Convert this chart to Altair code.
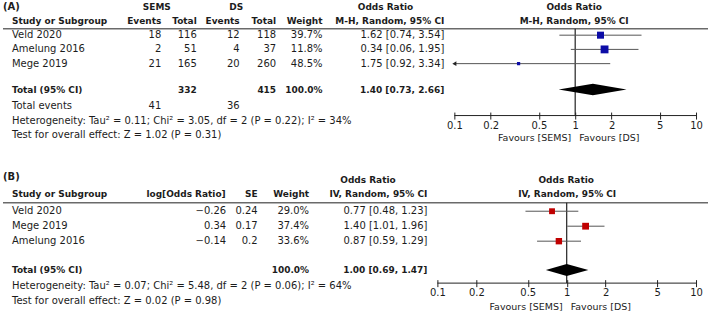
import altair as alt
import pandas as pd

# ---------------- Panel A data ----------------
studies_a = ["Veld 2020", "Amelung 2016", "Mege 2019"]
sems_events = [18, 2, 21]
sems_total = [116, 51, 165]
ds_events = [12, 4, 20]
ds_total = [118, 37, 260]
weight_a = [39.7, 11.8, 48.5]
or_a = [1.62, 0.34, 1.75]
lo_a = [0.74, 0.06, 0.92]
hi_a = [3.54, 1.95, 3.34]
plot_order_a = [0, 2, 1]          # marker order as drawn in the figure
total_sems_a, total_ds_a, total_w_a = 332, 415, 100.0
total_or_a, total_lo_a, total_hi_a = 1.40, 0.73, 2.66
events_sems_a, events_ds_a = 41, 36
tau2_a, chi2_a, df_a, phet_a, i2_a = 0.11, 3.05, 2, 0.22, 34
z_a, p_a = 1.02, 0.31

# ---------------- Panel B data ----------------
studies_b = ["Veld 2020", "Mege 2019", "Amelung 2016"]
log_or_b = [-0.26, 0.34, -0.14]
se_b = [0.24, 0.17, 0.2]
weight_b = [29.0, 37.4, 33.6]
or_b = [0.77, 1.40, 0.87]
lo_b = [0.48, 1.01, 0.59]
hi_b = [1.23, 1.96, 1.29]
total_w_b = 100.0
total_or_b, total_lo_b, total_hi_b = 1.00, 0.69, 1.47
tau2_b, chi2_b, df_b, phet_b, i2_b = 0.07, 5.48, 2, 0.06, 64
z_b, p_b = 0.02, 0.98

tick_values = [0.1, 0.2, 0.5, 1, 2, 5, 10]
favours = ["Favours [SEMS]", "Favours [DS]"]

FONT = "DejaVu Sans"
TXT = "#1c1c1c"
BLUE = "#0c0ca6"
RED = "#c00000"


def label(text, x, y, align="left", bold=False, size=None):
    return alt.Chart(pd.DataFrame({"t": [text]})).mark_text(
        align=align, baseline="middle", font=FONT,
        fontSize=size or (9 if bold else 10),
        fontWeight="bold" if bold else "normal", color=TXT,
    ).encode(x=alt.value(x), y=alt.value(y), text="t:N")


def column(values, rows, x, yscale, align="right", bold=False):
    df = pd.DataFrame({"t": [str(v) for v in values], "row": rows})
    return alt.Chart(df).mark_text(
        align=align, baseline="middle", font=FONT,
        fontSize=9 if bold else 10,
        fontWeight="bold" if bold else "normal", color=TXT,
    ).encode(x=alt.value(x), y=alt.Y("row:Q", scale=yscale, axis=None), text="t:N")


def ci_text(o, l, h):
    return f"{o:.2f} [{l:.2f}, {h:.2f}]"


def num(v):
    return f"{v:g}".replace("-", "\u2212")


def forest(order, est, lo, hi, w, t_or, t_lo, t_hi, t_row, xs, ys, axis_y,
           vtop, fav_y, color, size_scale):
    n = len(order)
    fdf = pd.DataFrame({
        "row": list(range(n)),
        "est": [est[i] for i in order],
        "lo": [lo[i] for i in order],
        "hi": [hi[i] for i in order],
        "w": [w[i] for i in order],
    })
    xmin, xmax = min(tick_values), max(tick_values)
    fdf["lo_clip"] = fdf["lo"].clip(lower=xmin)
    fdf["hi_clip"] = fdf["hi"].clip(upper=xmax)
    ax = alt.Axis(values=tick_values, format="~g", domain=False, tickSize=7,
                  tickColor="#222", tickWidth=1, labelFont=FONT, labelFontSize=10,
                  labelColor=TXT, labelPadding=1, labelFlush=False,
                  labelOverlap=False, grid=False, title=None,
                  offset=axis_y - 3.5 - H_PANEL[id(ys)], orient="bottom")
    X = lambda f: alt.X(f, scale=xs, axis=ax)
    Y = lambda f: alt.Y(f, scale=ys, axis=None)
    layers = []
    # reference line at OR = 1
    layers.append(alt.Chart(pd.DataFrame({"v": [1]})).mark_rule(
        color="#222", strokeWidth=1.2).encode(
        x=X("v:Q"), y=alt.value(vtop), y2=alt.value(axis_y)))
    # axis domain line
    layers.append(alt.Chart(pd.DataFrame({"a": [xmin], "b": [xmax]})).mark_rule(
        color="#222", strokeWidth=1).encode(x=X("a:Q"), x2="b:Q", y=alt.value(axis_y)))
    # CI lines
    layers.append(alt.Chart(fdf).mark_rule(color="#555", strokeWidth=1).encode(
        x=X("lo_clip:Q"), x2="hi_clip:Q", y=Y("row:Q")))
    # arrows for clipped CIs
    layers.append(alt.Chart(fdf).transform_filter(f"datum.lo < {xmin}").mark_point(
        shape="triangle-left", filled=True, color="#222", opacity=1, size=22).encode(
        x=X("lo_clip:Q"), y=Y("row:Q")))
    # study squares
    layers.append(alt.Chart(fdf).mark_square(color=color, opacity=1).encode(
        x=X("est:Q"), y=Y("row:Q"),
        size=alt.Size("w:Q", scale=size_scale, legend=None)))
    # pooled diamond
    h = 0.4
    ddf = pd.DataFrame({"x": [t_lo, t_or, t_hi],
                        "r": [t_row, t_row - h, t_row],
                        "r2": [t_row, t_row + h, t_row]})
    layers.append(alt.Chart(ddf).mark_area(color="black", orient="vertical", opacity=1).encode(
        x=X("x:Q"), y=Y("r:Q"), y2="r2:Q"))
    # favours labels
    fv = pd.DataFrame({"v": [1, 1], "t": favours})
    layers.append(alt.Chart(fv).transform_filter(f"datum.t == '{favours[0]}'").mark_text(
        align="right", baseline="middle", dx=-4, font=FONT, fontSize=9.5, color=TXT).encode(
        x=X("v:Q"), y=alt.value(fav_y), text="t:N"))
    layers.append(alt.Chart(fv).transform_filter(f"datum.t == '{favours[1]}'").mark_text(
        align="left", baseline="middle", dx=4, font=FONT, fontSize=9.5, color=TXT).encode(
        x=X("v:Q"), y=alt.value(fav_y), text="t:N"))
    return layers


HA, HB = 160, 155
ys_a = alt.Scale(domain=[0, 2], range=[35, 63.5], nice=False, zero=False)
ys_b = alt.Scale(domain=[0, 2], range=[51.3, 81.3], nice=False, zero=False)
H_PANEL = {id(ys_a): HA, id(ys_b): HB}
xs_a = alt.Scale(type="log", domain=[0.1, 10], range=[455, 697], nice=False)
xs_b = alt.Scale(type="log", domain=[0.1, 10], range=[438, 697], nice=False)

# ---------------- Panel A ----------------
rows_a = list(range(len(studies_a)))
TA = 3.82
la = [
    label("(A)", 3, 7, bold=True, size=10),
    label("SEMS", 157, 7, align="center", bold=True),
    label("DS", 236.5, 7, align="center", bold=True),
    label("Odds Ratio", 386, 7, align="center", bold=True),
    label("Odds Ratio", 575, 7, align="center", bold=True),
    label("Study or Subgroup", 12, 20.5, bold=True),
    label("Events", 161.5, 20.5, align="right", bold=True),
    label("Total", 197, 20.5, align="right", bold=True),
    label("Events", 240, 20.5, align="right", bold=True),
    label("Total", 276.5, 20.5, align="right", bold=True),
    label("Weight", 323, 20.5, align="right", bold=True),
    label("M-H, Random, 95% CI", 445, 20.5, align="right", bold=True),
    label("M-H, Random, 95% CI", 575, 20.5, align="center", bold=True),
    alt.Chart(pd.DataFrame({"a": [0]})).mark_rule(color="#6a6a6a", strokeWidth=1.5).encode(
        x=alt.value(3), x2=alt.value(709), y=alt.value(28.5)),
    column(studies_a, rows_a, 12, ys_a, align="left"),
    column(sems_events, rows_a, 161.5, ys_a),
    column(sems_total, rows_a, 197, ys_a),
    column(ds_events, rows_a, 240, ys_a),
    column(ds_total, rows_a, 276.5, ys_a),
    column([f"{w:.1f}%" for w in weight_a], rows_a, 323, ys_a),
    column([ci_text(o, l, h) for o, l, h in zip(or_a, lo_a, hi_a)], rows_a, 445, ys_a),
    column(["Total (95% CI)"], [TA], 12, ys_a, align="left", bold=True),
    column([total_sems_a], [TA], 197, ys_a, bold=True),
    column([total_ds_a], [TA], 276.5, ys_a, bold=True),
    column([f"{total_w_a:.1f}%"], [TA], 323, ys_a, bold=True),
    column([ci_text(total_or_a, total_lo_a, total_hi_a)], [TA], 445, ys_a, bold=True),
    column(["Total events"], [5], 12, ys_a, align="left"),
    column([events_sems_a], [5], 161.5, ys_a),
    column([events_ds_a], [5], 240, ys_a),
    column([f"Heterogeneity: Tau² = {tau2_a:.2f}; Chi² = {chi2_a:.2f}, df = {df_a} "
            f"(P = {phet_a:.2f}); I² = {i2_a}%"], [6], 12, ys_a, align="left"),
    column([f"Test for overall effect: Z = {z_a:.2f} (P = {p_a:.2f})"], [7], 12, ys_a, align="left"),
]
la += forest(plot_order_a, or_a, lo_a, hi_a, weight_a, total_or_a, total_lo_a, total_hi_a,
             TA, xs_a, ys_a, 115.5, 28.5, 137.5, BLUE,
             alt.Scale(domain=[10, 50], range=[8, 64]))
panel_a = alt.layer(*la).properties(width=709, height=HA)

# ---------------- Panel B ----------------
rows_b = list(range(len(studies_b)))
TB = 3.92
lb = [
    label("(B)", 3, 16.7, bold=True, size=10),
    label("Odds Ratio", 368.5, 20.5, align="center", bold=True),
    label("Odds Ratio", 567, 20.5, align="center", bold=True),
    label("Study or Subgroup", 12, 34, bold=True),
    label("log[Odds Ratio]", 226, 34, align="right", bold=True),
    label("SE", 258, 34, align="right", bold=True),
    label("Weight", 309.5, 34, align="right", bold=True),
    label("IV, Random, 95% CI", 428, 34, align="right", bold=True),
    label("IV, Random, 95% CI", 568, 34, align="center", bold=True),
    alt.Chart(pd.DataFrame({"a": [0]})).mark_rule(color="#6a6a6a", strokeWidth=1.5).encode(
        x=alt.value(3), x2=alt.value(709), y=alt.value(42.7)),
    column(studies_b, rows_b, 12, ys_b, align="left"),
    column([num(v) for v in log_or_b], rows_b, 226.5, ys_b),
    column([num(v) for v in se_b], rows_b, 258, ys_b),
    column([f"{w:.1f}%" for w in weight_b], rows_b, 309.5, ys_b),
    column([ci_text(o, l, h) for o, l, h in zip(or_b, lo_b, hi_b)], rows_b, 428, ys_b),
    column(["Total (95% CI)"], [TB], 12, ys_b, align="left", bold=True),
    column([f"{total_w_b:.1f}%"], [TB], 309.5, ys_b, bold=True),
    column([ci_text(total_or_b, total_lo_b, total_hi_b)], [TB], 428, ys_b, bold=True),
    column([f"Heterogeneity: Tau² = {tau2_b:.2f}; Chi² = {chi2_b:.2f}, df = {df_b} "
            f"(P = {phet_b:.2f}); I² = {i2_b}%"], [5], 12, ys_b, align="left"),
    column([f"Test for overall effect: Z = {z_b:.2f} (P = {p_b:.2f})"], [6], 12, ys_b, align="left"),
]
lb += forest(list(range(len(studies_b))), or_b, lo_b, hi_b, weight_b, total_or_b, total_lo_b,
             total_hi_b, TB, xs_b, ys_b, 123.3, 42.7, 147, RED,
             alt.Scale(domain=[29, 37.4], range=[36, 50]))
panel_b = alt.layer(*lb).properties(width=709, height=HB)

chart = alt.vconcat(panel_a, panel_b, spacing=0).properties(
    padding=0, background="white"
).configure_view(stroke=None)

chart.save("out.html", embed_options={"renderer": "svg", "actions": False})
